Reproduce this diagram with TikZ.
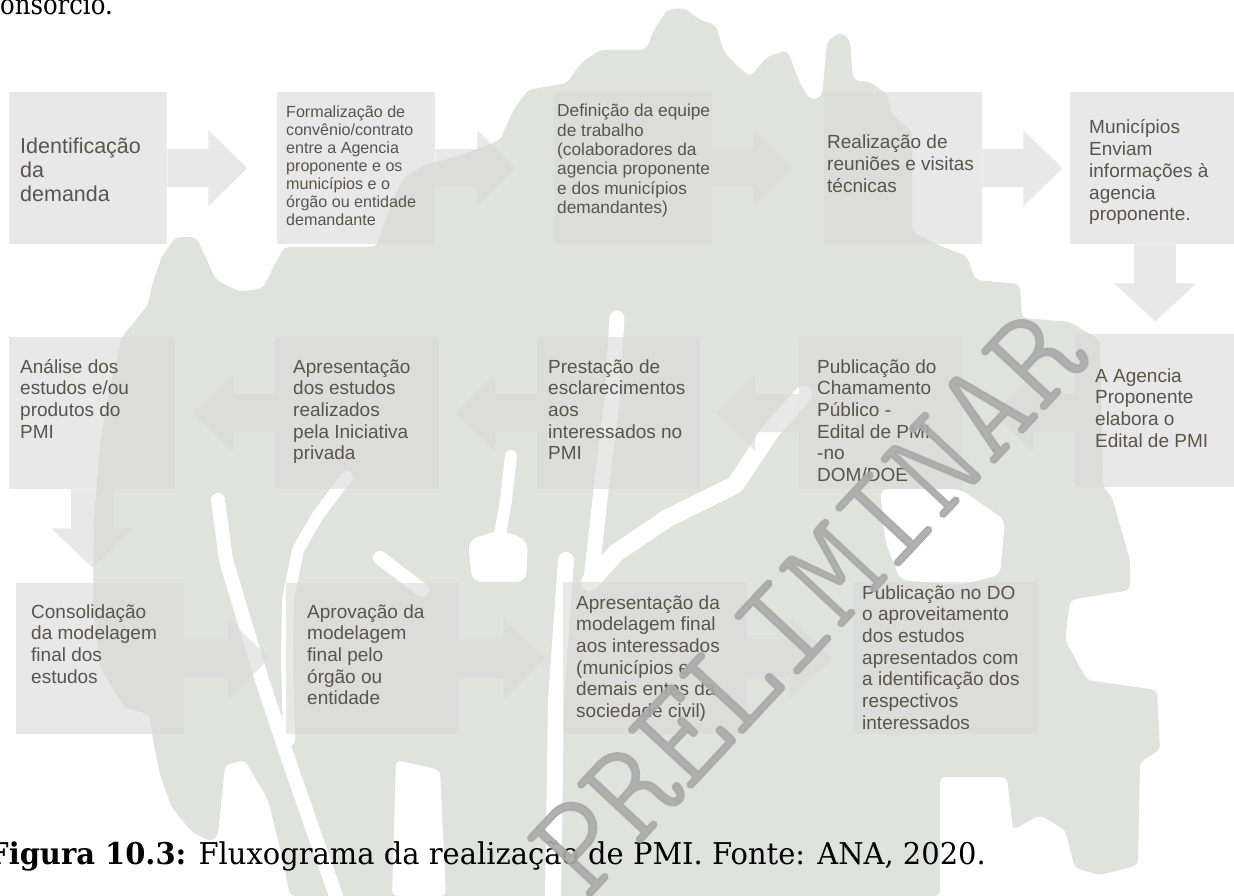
\documentclass[tikz,border=0pt]{standalone}
\usepackage{fontspec}
\usetikzlibrary{calc}
\newfontfamily\boxfont{Liberation Sans}
\newfontfamily\capfont[FakeStretch=0.87]{DejaVu Serif}
\newfontfamily\figfont[FakeStretch=0.965]{DejaVu Serif}
\newfontfamily\markfont[FakeBold=1.5]{lmmonolt10-regular.otf}
\definecolor{treecol}{RGB}{224,226,220}
\definecolor{boxcol}{RGB}{218,218,218}
\definecolor{txtcol}{RGB}{88,86,74}
\definecolor{markcol}{RGB}{170,170,170}

% block arrow: start, angle, length, head length, shaft half width, head half width
\newcommand{\flowarrow}[6]{%
  \fill[flow, shift={(#1)}, rotate=#2]
    (0,-#5) -- (#3-#4,-#5) -- (#3-#4,-#6) -- (#3,0) -- (#3-#4,#6) -- (#3-#4,#5) -- (0,#5) -- cycle;}
% multi-line box text: size, line spacing, lines
\newcommand{\txtblock}[3]{\boxfont\fontsize{#1}{#2}\selectfont\parbox[t]{240pt}{\raggedright #3}}

\begin{document}
\begin{tikzpicture}[x=1pt,y=-1pt,
  box/.style={fill=boxcol, fill opacity=0.61, draw=none, inner sep=0pt, anchor=north west},
  flow/.style={fill=boxcol, fill opacity=0.61},
  txt/.style={inner sep=0pt, anchor=base west, text=txtcol},
  branch/.style={draw=white, line width=#1, line cap=round, line join=round},
  branch/.default=14pt]
\useasboundingbox (0,0) rectangle (1234,896);
\clip (0,0) rectangle (1234,896);
\fill[white] (0,0) rectangle (1234,896);

% tree silhouette in the background
\fill[treecol, rounded corners=5pt]
  (212,842) -- (192,832) -- (172,808) -- (160,775) -- (153,740) -- (150,715) -- (125,708)
  -- (100,668) -- (93,610) -- (94,520) -- (100,445) -- (110,385) -- (122,337) -- (148,305)
  -- (152,285) -- (162,256) -- (176,237) -- (196,237) -- (206,258) -- (216,280) -- (240,292)
  -- (263,288) -- (276,262) -- (284,247) -- (376,247) -- (392,202) -- (404,177) -- (425,165)
  -- (462,155) -- (500,140) -- (513,111) -- (528,90) -- (567,83) -- (581,63) -- (600,50)
  -- (646,50) -- (654,30) -- (667,10) -- (684,8) -- (700,20) -- (716,25) -- (723,50)
  -- (734,63) -- (750,77) -- (767,57) -- (787,50) -- (800,83) -- (810,100) -- (822,97)
  -- (827,42) -- (840,32) -- (850,40) -- (853,80) -- (870,82) -- (888,95) -- (890,112)
  -- (912,132) -- (912,232) -- (940,246) -- (967,256) -- (975,280) -- (1020,284) -- (1022,318)
  -- (1070,322) -- (1100,340) -- (1103,487) -- (1112,497) -- (1130,560) -- (1130,590)
  -- (1070,600) -- (1065,640) -- (1087,680) -- (1157,690) -- (1160,750) -- (1140,762)
  -- (1138,865) -- (1100,875) -- (1075,868) -- (1065,830) -- (1040,815) -- (1013,830)
  -- (1007,777) -- (940,777) -- (940,896) -- (290,896) -- (283,860) -- (268,800)
  -- (245,760) -- (225,765) -- (218,835) -- cycle;
% white branches and gaps inside the crown
\draw[branch] (218,500) -- (226,560) -- (262,680) -- (292,770) -- (336,896);
\draw[branch=12pt] (347,477) -- (318,515) -- (298,550) -- (288,600) -- (287,660) -- (289,740);
\draw[branch] (380,558) -- (422,590);
\draw[branch=15pt] (617,318) -- (612,400) -- (601,490) -- (591,580);
\draw[branch=12pt] (511,456) -- (506,500) -- (500,535);
\fill[white, rounded corners=10pt] (468,540) -- (500,530) -- (528,540) -- (526,582) -- (472,582) -- cycle;
\draw[branch=18pt] (803,395) -- (770,432) -- (735,485) -- (668,518) -- (616,553) -- (590,582);
\draw[branch=16pt] (566,560) -- (556,700) -- (553,896);
\fill[white, rounded corners=6pt] (396,760) -- (440,770) -- (446,896) -- (392,896) -- cycle;
\fill[white, rounded corners=8pt] (880,489) -- (960,489) -- (1005,520) -- (1000,575)
  -- (960,585) -- (900,580) -- (885,540) -- cycle;

% running text above and caption below
\node[anchor=base west, inner sep=0pt] (toptext) at (0,15)
  {\capfont\fontsize{28}{34}\selectfont onsórcio.};
\node[anchor=base west, inner sep=0pt] (caption) at (-12,864)
  {\figfont\fontsize{30}{36}\selectfont\textbf{Figura 10.3:} Fluxograma da realização de PMI. Fonte: ANA, 2020.};

% process boxes
\node[box, minimum width=158pt, minimum height=152pt] (b1) at (9,92) {};
\node[box, minimum width=158pt, minimum height=152pt] (b2) at (277,92) {};
\node[box, minimum width=158pt, minimum height=152pt] (b3) at (554,92) {};
\node[box, minimum width=158pt, minimum height=152pt] (b4) at (824,92) {};
\node[box, minimum width=170pt, minimum height=152pt] (b5) at (1070,92) {};
\node[box, minimum width=166pt, minimum height=152pt] (b6) at (9,337) {};
\node[box, minimum width=164pt, minimum height=152pt] (b7) at (275,337) {};
\node[box, minimum width=163pt, minimum height=152pt] (b8) at (537,337) {};
\node[box, minimum width=163pt, minimum height=152pt] (b9) at (799,337) {};
\node[box, minimum width=170pt, minimum height=153pt] (b10) at (1075,334) {};
\node[box, minimum width=168pt, minimum height=151pt] (b11) at (16,583) {};
\node[box, minimum width=173pt, minimum height=151pt] (b12) at (286,583) {};
\node[box, minimum width=184pt, minimum height=152pt] (b13) at (563,582) {};
\node[box, minimum width=185pt, minimum height=152pt] (b14) at (853,582) {};

% block arrows between the steps
\flowarrow{b1.east}{0}{80}{39}{19}{38}
\flowarrow{b2.east}{0}{80}{38}{19}{38}
\flowarrow{b3.east}{0}{80}{39}{19}{38}
\flowarrow{b4.east}{0}{80}{39}{19}{38}
\flowarrow{b5.south}{-90}{77}{38}{21}{41}
\flowarrow{b10.west |- b9.east}{180}{82}{40}{19}{38}
\flowarrow{b9.west}{180}{82}{38}{19}{38}
\flowarrow{b8.west}{180}{82}{40}{19}{38}
\flowarrow{b7.west}{180}{82}{40}{19}{38}
\flowarrow{b6.south}{-90}{78}{39}{21}{41}
\flowarrow{b11.east}{0}{85}{41}{19}{40}
\flowarrow{b12.east}{0}{86}{42}{19}{40}
\flowarrow{b13.east}{0}{85}{42}{19}{40}

% step texts
\node[txt] (t1) at (20,154) {\txtblock{21.5}{24}{Identificação\\da\\demanda}};
\node[txt] (t2) at (286,118) {\txtblock{16.1}{18}{Formalização de\\convênio/contrato\\entre a Agencia\\proponente e os\\municípios e o\\órgão ou entidade\\demandante}};
\node[txt] (t3) at (557,117) {\txtblock{17.3}{19.3}{Definição da equipe\\de trabalho\\(colaboradores da\\agencia proponente\\e dos municípios\\demandantes)}};
\node[txt] (t4) at (827,149) {\txtblock{19}{21.7}{Realização de\\reuniões e visitas\\técnicas}};
\node[txt] (t5) at (1089,134) {\txtblock{19}{21.7}{Municípios\\Enviam\\informações à\\agencia\\proponente.}};
\node[txt] (t6) at (20,373) {\txtblock{19}{21.7}{Análise dos\\estudos e/ou\\produtos do\\PMI}};
\node[txt] (t7) at (293,373) {\txtblock{19}{21.7}{Apresentação\\dos estudos\\realizados\\pela Iniciativa\\privada}};
\node[txt] (t8) at (548,373) {\txtblock{19}{21.7}{Prestação de\\esclarecimentos\\aos\\interessados no\\PMI}};
\node[txt] (t9) at (817,373) {\txtblock{19}{21.7}{Publicação do\\Chamamento\\Público -\\Edital de PMI\\-no\\DOM/DOE}};
\node[txt] (t10) at (1095,382) {\txtblock{19}{21.7}{A Agencia\\Proponente\\elabora o\\Edital de PMI}};
\node[txt] (t11) at (31,618) {\txtblock{19}{21.7}{Consolidação\\da modelagem\\final dos\\estudos}};
\node[txt] (t12) at (307,618) {\txtblock{19}{21.7}{Aprovação da\\modelagem\\final pelo\\órgão ou\\entidade}};
\node[txt] (t13) at (576,609) {\txtblock{19}{21.7}{Apresentação da\\modelagem final\\aos interessados\\(municípios e\\demais entes da\\sociedade civil)}};
\node[txt] (t14) at (862,599) {\txtblock{19}{21.7}{Publicação no DO\\o aproveitamento\\dos estudos\\apresentados com\\a identificação dos\\respectivos\\interessados}};

% draft watermark
\node[rotate=47, inner sep=0pt, text=markcol, text opacity=0.9,
      font=\markfont\fontsize{141}{141}\selectfont] (wm) at (808,600) {PRELIMINAR};
\end{tikzpicture}
\end{document}
